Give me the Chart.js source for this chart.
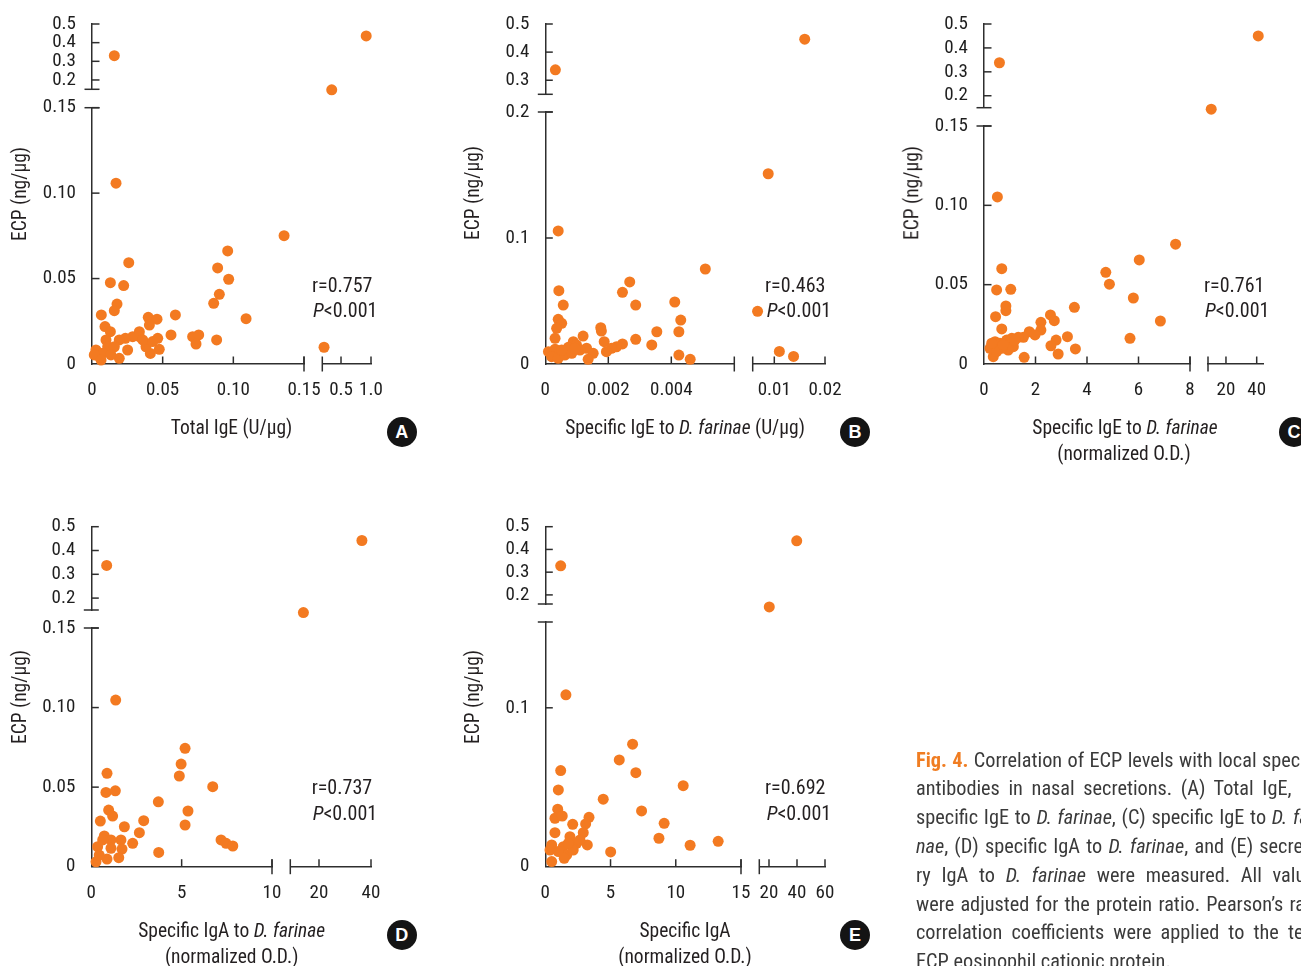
<!DOCTYPE html>
<html lang="en">
<head>
<meta charset="utf-8">
<title>Fig. 4 – ECP vs. local antibodies</title>
<script src="https://cdn.jsdelivr.net/npm/chart.js@4.4.1/dist/chart.umd.min.js"></script>
<style>
  html, body { margin:0; padding:0; background:#fff; overflow:hidden; }
  body { width:1301px; height:966px; position:relative;
         font-family:"Roboto Condensed",Roboto,sans-serif; color:#231f20; }
  canvas { position:absolute; left:0; top:0; }
  .c  { position:absolute; transform:translate(-50%,-50%); white-space:nowrap; font-size:19.5px; line-height:1; }
  .l  { position:absolute; transform:translate(0,-50%); white-space:nowrap; font-size:20px; line-height:1; }
  .yt { position:absolute; transform:translate(-50%,-50%) rotate(-90deg); white-space:nowrap; font-size:19.5px; line-height:1; }
  .tag { position:absolute; width:30px; height:30px; margin:-15px 0 0 -15px; border-radius:50%;
         background:#141414; color:#fff; font:bold 18px/30px "Liberation Sans",Arial,sans-serif; text-align:center; }
  .cap { position:absolute; left:916px; width:408px; height:24px; line-height:24px; font-size:20.3px;
         color:#3a3a3a; text-align:justify; text-align-last:justify; overflow:hidden; white-space:normal; }
  .cap.last { text-align-last:left; }
  .fig { color:#f07d22; font-weight:bold; }
</style>
</head>
<body>
<canvas id="cA" width="1301" height="966"></canvas>
<canvas id="cB" width="1301" height="966"></canvas>
<canvas id="cC" width="1301" height="966"></canvas>
<canvas id="cD" width="1301" height="966"></canvas>
<canvas id="cE" width="1301" height="966"></canvas>

<!-- A -->
<div class="yt" style="left:20px;top:194px">ECP (ng/μg)</div>
<div class="c" style="left:231.5px;top:428px">Total IgE (U/μg)</div>
<div class="l" style="left:312px;top:284.5px">r=0.757</div>
<div class="l" style="left:313px;top:310px"><i>P</i>&lt;0.001</div>
<div class="tag" style="left:401.7px;top:432.3px">A</div>

<!-- B -->
<div class="yt" style="left:473.3px;top:193px">ECP (ng/μg)</div>
<div class="c" style="left:685px;top:428px">Specific IgE to <i>D. farinae</i> (U/μg)</div>
<div class="l" style="left:765px;top:284.5px">r=0.463</div>
<div class="l" style="left:766.7px;top:310px"><i>P</i>&lt;0.001</div>
<div class="tag" style="left:855px;top:432.3px">B</div>

<!-- C -->
<div class="yt" style="left:911.7px;top:193px">ECP (ng/μg)</div>
<div class="c" style="left:1125px;top:428px">Specific IgE to <i>D. farinae</i></div>
<div class="c" style="left:1124px;top:454px">(normalized O.D.)</div>
<div class="l" style="left:1204px;top:284.5px">r=0.761</div>
<div class="l" style="left:1205px;top:310px"><i>P</i>&lt;0.001</div>
<div class="tag" style="left:1294px;top:432.3px">C</div>

<!-- D -->
<div class="yt" style="left:20px;top:697px">ECP (ng/μg)</div>
<div class="c" style="left:231.7px;top:930.7px">Specific IgA to <i>D. farinae</i></div>
<div class="c" style="left:231.7px;top:956.7px">(normalized O.D.)</div>
<div class="l" style="left:311.7px;top:787px">r=0.737</div>
<div class="l" style="left:312.7px;top:813px"><i>P</i>&lt;0.001</div>
<div class="tag" style="left:401.7px;top:935px">D</div>

<!-- E -->
<div class="yt" style="left:473.3px;top:697px">ECP (ng/μg)</div>
<div class="c" style="left:685px;top:930.7px">Specific IgA</div>
<div class="c" style="left:685px;top:956.7px">(normalized O.D.)</div>
<div class="l" style="left:765px;top:787px">r=0.692</div>
<div class="l" style="left:766.7px;top:813px"><i>P</i>&lt;0.001</div>
<div class="tag" style="left:855px;top:935px">E</div>

<!-- figure legend -->
<div class="cap" style="top:748px"><span class="fig">Fig. 4.</span> Correlation of ECP levels with local specific</div>
<div class="cap" style="top:776.3px">antibodies in nasal secretions. (A) Total IgE, (B)</div>
<div class="cap" style="top:805.3px">specific IgE to <i>D. farinae</i>, (C) specific IgE to <i>D. fari-</i></div>
<div class="cap" style="top:834px"><i>nae</i>, (D) specific IgA to <i>D. farinae</i>, and (E) secreto-</div>
<div class="cap" style="top:863px">ry IgA to <i>D. farinae</i> were measured. All values</div>
<div class="cap" style="top:891.5px">were adjusted for the protein ratio. Pearson’s rank</div>
<div class="cap" style="top:920px">correlation coefficients were applied to the test.</div>
<div class="cap last" style="top:949px">ECP eosinophil cationic protein.</div>

<script>
// ---------- measurements: [antibody level, ECP (ng/μg)] ----------
const totalIgE = [
  [0.0960,0.0662],[0.0260,0.0593],[0.0889,0.0562],[0.0967,0.0496],[0.0130,0.0476],[0.0224,0.0459],
  [0.0901,0.0408],[0.0861,0.0355],[0.0177,0.0351],[0.0158,0.0312],[0.0066,0.0287],[0.0590,0.0287],
  [0.1090,0.0265],[0.0398,0.0273],[0.0460,0.0262],[0.0092,0.0219],[0.0130,0.0189],[0.0406,0.0228],
  [0.0559,0.0170],[0.0712,0.0160],[0.0755,0.0170],[0.0736,0.0117],[0.0882,0.0141],[0.0465,0.0150],
  [0.0476,0.0086],[0.0413,0.0062],[0.0382,0.0101],[0.0335,0.0160],[0.0288,0.0160],[0.0236,0.0150],
  [0.0252,0.0082],[0.0193,0.0033],[0.0099,0.0141],[0.0111,0.0101],[0.0028,0.0082],[0.0052,0.0043],
  [0.0076,0.0063],[0.0016,0.0053],[0.0064,0.0023],[0.0335,0.0189],[0.0193,0.0141],[0.0158,0.0101],
  [0.0359,0.0141],[0.0134,0.0053],[0.0429,0.0131],[0.0170,0.1058],[0.1359,0.0751],
  [0.217,0.0098],[0.0158,0.330],[0.345,0.147],[0.92,0.436]
];
const specificIgE = [
  [0.00508,0.0754],[0.00268,0.0651],[0.00043,0.0582],[0.00245,0.0569],[0.00057,0.0468],[0.00287,0.0468],
  [0.00411,0.0492],[0.00041,0.0355],[0.00052,0.0323],[0.00430,0.0349],[0.00036,0.0283],[0.00176,0.0288],
  [0.00178,0.0262],[0.00354,0.0256],[0.00424,0.0256],[0.00031,0.0204],[0.00120,0.0222],[0.00287,0.0196],
  [0.00187,0.0177],[0.00245,0.0159],[0.00226,0.0137],[0.00210,0.0125],[0.00194,0.0098],[0.00338,0.0151],
  [0.00089,0.0177],[0.00099,0.0151],[0.00073,0.0132],[0.00131,0.0125],[0.00152,0.0085],[0.00136,0.0037],
  [0.00010,0.0098],[0.00031,0.0117],[0.00020,0.0058],[0.00041,0.0045],[0.00062,0.0071],[0.00084,0.0085],
  [0.00110,0.0111],[0.00424,0.0071],[0.00460,0.0037],[0.00052,0.0111],[0.00094,0.0125],[0.00041,0.1056],
  [0.0088,0.151],[0.0067,0.0418],[0.0110,0.0100],[0.0138,0.0060],
  [0.00032,0.337],[0.016,0.446]
];
const specificIgEOD = [
  [6.03,0.0656],[0.69,0.0601],[4.73,0.0578],[4.87,0.0503],[0.49,0.0467],[1.04,0.0471],[5.80,0.0416],
  [0.85,0.0366],[3.51,0.0357],[0.85,0.0336],[0.45,0.0298],[2.58,0.0309],[2.73,0.0273],[6.85,0.0271],
  [2.21,0.0263],[0.69,0.0221],[2.21,0.0214],[1.76,0.0204],[1.98,0.0183],[3.24,0.0172],[5.67,0.0162],
  [1.53,0.0168],[1.33,0.0168],[2.80,0.0151],[2.60,0.0115],[3.55,0.0095],[2.88,0.0063],[1.56,0.0042],
  [0.36,0.0046],[0.23,0.0099],[0.43,0.0141],[0.62,0.0131],[0.88,0.0151],[1.08,0.0162],[1.14,0.0109],
  [0.94,0.0088],[0.69,0.0099],[0.49,0.0078],[0.30,0.0131],[1.20,0.0151],[0.75,0.0120],[0.52,0.1053],
  [7.44,0.0755],
  [0.60,0.338],[41.0,0.450],[10.4,0.144]
];
const specificIgA = [
  [5.19,0.0744],[4.97,0.0645],[4.87,0.0570],[0.87,0.0587],[6.72,0.0503],[0.81,0.0467],[1.33,0.0477],
  [3.71,0.0408],[5.35,0.0350],[0.96,0.0356],[1.18,0.0318],[0.50,0.0287],[2.90,0.0289],[5.19,0.0262],
  [1.83,0.0251],[2.66,0.0214],[0.72,0.0193],[1.64,0.0168],[2.29,0.0147],[7.18,0.0168],[7.46,0.0147],
  [7.83,0.0130],[1.09,0.0168],[1.09,0.0116],[1.70,0.0111],[0.35,0.0126],[0.63,0.0168],[3.73,0.0090],
  [1.52,0.0057],[0.87,0.0048],[0.26,0.0031],[0.44,0.0073],[1.35,0.1047],
  [0.85,0.3375],[36.5,0.442],[14.0,0.139]
];
const secretoryIgA = [
  [6.69,0.0771],[5.67,0.0672],[6.94,0.0592],[1.18,0.0605],[1.00,0.0483],[10.57,0.0510],[4.44,0.0425],
  [0.95,0.0362],[0.74,0.0305],[1.30,0.0319],[7.38,0.0351],[3.35,0.0311],[3.09,0.0269],[9.11,0.0273],
  [2.10,0.0267],[0.74,0.0214],[2.91,0.0214],[8.71,0.0179],[1.89,0.0189],[13.25,0.0160],[11.10,0.0135],
  [3.22,0.0137],[2.40,0.0147],[1.38,0.0126],[0.49,0.0137],[0.36,0.0105],[5.01,0.0093],[1.64,0.0074],
  [1.00,0.0095],[0.49,0.0032],[1.45,0.0053],[2.14,0.0105],[2.66,0.0168],[1.76,0.0147],[1.58,0.1082],
  [1.18,0.328],[39.8,0.438],[20.2,0.147]
];

// ---------- tick values and their labels ----------
const ecpHighTicks   = [0.2, 0.3, 0.4, 0.5];
const ecpHighLabels  = ['0.2', '0.3', '0.4', '0.5'];
const ecpHighTicksB  = [0.3, 0.4, 0.5];
const ecpHighLabelsB = ['0.3', '0.4', '0.5'];
const ecpLowTicks    = [0, 0.05, 0.10, 0.15];
const ecpLowLabels   = ['0', '0.05', '0.10', '0.15'];
const ecpLowTicksB   = [0, 0.1, 0.2];
const ecpLowLabelsB  = ['0', '0.1', '0.2'];
const ecpLowTicksE   = [0, 0.1];
const ecpLowLabelsE  = ['0', '0.1'];

const totalIgETicks      = [0, 0.05, 0.10, 0.15];
const totalIgELabels     = ['0', '0.05', '0.10', '0.15'];
const totalIgEHighTicks  = [0.5, 1.0];
const totalIgEHighLabels = ['0.5', '1.0'];
const sIgETicks          = [0, 0.002, 0.004];
const sIgELabels         = ['0', '0.002', '0.004'];
const sIgEHighTicks      = [0.01, 0.02];
const sIgEHighLabels     = ['0.01', '0.02'];
const sIgEODTicks        = [0, 2, 4, 6, 8];
const sIgEODLabels       = ['0', '2', '4', '6', '8'];
const sIgEODHighTicks    = [20, 40];
const sIgEODHighLabels   = ['20', '40'];
const sIgATicks          = [0, 5, 10];
const sIgALabels         = ['0', '5', '10'];
const sIgAHighTicks      = [20, 40];
const sIgAHighLabels     = ['20', '40'];
const secIgATicks        = [0, 5, 10, 15];
const secIgALabels       = ['0', '5', '10', '15'];
const secIgAHighTicks    = [20, 40, 60];
const secIgAHighLabels   = ['20', '40', '60'];

// ---------- panel geometry (each axis is split into a low and a high segment) ----------
const panels = [
  { canvas:'cA', points:totalIgE, xBreak:0.15, yBreak:0.13, axisX:92, axisY:364,
    xLo:{min:0, max:0.15, from:92, to:304, ticks:totalIgETicks, labels:totalIgELabels},
    xHi:{min:0.188, max:1.0, from:322.3, to:371, ticks:totalIgEHighTicks, labels:totalIgEHighLabels},
    yLo:{min:0, max:0.15, from:364, to:107.7, ticks:ecpLowTicks, labels:ecpLowLabels},
    yHi:{min:0.15, max:0.5, from:89.3, to:24, ticks:ecpHighTicks, labels:ecpHighLabels} },
  { canvas:'cB', points:specificIgE, xBreak:0.006, yBreak:0.2, axisX:545.3, axisY:364,
    xLo:{min:0, max:0.006, from:545.3, to:734.3, ticks:sIgETicks, labels:sIgELabels},
    xHi:{min:0.00574, max:0.02, from:752.7, to:825, ticks:sIgEHighTicks, labels:sIgEHighLabels},
    yLo:{min:0, max:0.2, from:364, to:112, ticks:ecpLowTicksB, labels:ecpLowLabelsB},
    yHi:{min:0.25, max:0.5, from:94.3, to:24, ticks:ecpHighTicksB, labels:ecpHighLabelsB} },
  { canvas:'cC', points:specificIgEOD, xBreak:8, yBreak:0.13, axisX:984, axisY:364,
    xLo:{min:0, max:8, from:984, to:1190, ticks:sIgEODTicks, labels:sIgEODLabels},
    xHi:{min:8.3, max:44.3, from:1208, to:1263.3, ticks:sIgEODHighTicks, labels:sIgEODHighLabels},
    yLo:{min:0, max:0.15, from:364, to:126, ticks:ecpLowTicks, labels:ecpLowLabels},
    yHi:{min:0.15, max:0.5, from:107.7, to:24, ticks:ecpHighTicks, labels:ecpHighLabels} },
  { canvas:'cD', points:specificIgA, xBreak:10, yBreak:0.13, axisX:91.3, axisY:866.7,
    xLo:{min:0, max:10, from:91.3, to:272, ticks:sIgATicks, labels:sIgALabels},
    xHi:{min:8.96, max:40, from:290.3, to:371, ticks:sIgAHighTicks, labels:sIgAHighLabels},
    yLo:{min:0, max:0.15, from:866.7, to:628, ticks:ecpLowTicks, labels:ecpLowLabels},
    yHi:{min:0.15, max:0.5, from:610, to:526.7, ticks:ecpHighTicks, labels:ecpHighLabels} },
  { canvas:'cE', points:secretoryIgA, xBreak:15, yBreak:0.13, axisX:545.3, axisY:866.7,
    xLo:{min:0, max:15, from:545.3, to:741, ticks:secIgATicks, labels:secIgALabels},
    xHi:{min:13.07, max:60, from:759.3, to:825, ticks:secIgAHighTicks, labels:secIgAHighLabels},
    yLo:{min:0, max:0.154, from:866.7, to:622, ticks:ecpLowTicksE, labels:ecpLowLabelsE},
    yHi:{min:0.16, max:0.5, from:604, to:526.7, ticks:ecpHighTicks, labels:ecpHighLabels} }
];

const INK = '#2e2e2e';
const DOT = '#f37a21';
Chart.defaults.font.family = '"Roboto Condensed", Roboto, sans-serif';
Chart.defaults.font.size = 19;
Chart.defaults.color = '#231f20';

function scaleCfg(axis, s) {
  return {
    type: 'linear', axis, position: axis === 'x' ? 'bottom' : 'left',
    min: s.min, max: s.max, bounds: 'data',
    grid: { display: true, drawOnChartArea: false, drawTicks: false, color: 'rgba(0,0,0,0)' },
    border: { display: true, color: INK, width: 1.5 },
    afterBuildTicks: sc => { sc.ticks = s.ticks.map(v => ({ value: v })); },
    ticks: { autoSkip: false, maxRotation: 0, minRotation: 0, padding: axis === 'x' ? 15 : 16,
             color: '#1e1e1e', callback: (v, i) => s.labels[i] }
  };
}

// put each axis segment at its own place on the page
function place(s, l, t, r, b) {
  s.left = l; s.top = t; s.right = r; s.bottom = b;
  s.width = r - l; s.height = b - t;
  s.configure();
}

function brokenAxes(p) {
  return {
    id: 'brokenAxes',
    afterLayout(chart) {
      const S = chart.scales;
      place(S.yLo, p.axisX - 90, p.yLo.to, p.axisX, p.yLo.from);
      place(S.yHi, p.axisX - 90, p.yHi.to, p.axisX, p.yHi.from);
      place(S.xLo, p.xLo.from, p.axisY, p.xLo.to, p.axisY + 50);
      place(S.xHi, p.xHi.from, p.axisY, p.xHi.to, p.axisY + 50);
      // the plotting area spans the whole canvas so no mark near an axis is dropped
      const a = chart.chartArea;
      a.left = 0; a.top = 0; a.right = chart.width; a.bottom = chart.height;
      a.width = chart.width; a.height = chart.height;
    },
    beforeDatasetsDraw(chart) {
      const { ctx, scales: S } = chart;
      const L = 7.5, X = p.axisX, Y = p.axisY;
      const line = (x1, y1, x2, y2) => { ctx.beginPath(); ctx.moveTo(x1, y1); ctx.lineTo(x2, y2); ctx.stroke(); };
      ctx.save();
      ctx.strokeStyle = INK; ctx.lineWidth = 1.5; ctx.lineCap = 'butt';
      // inward tick marks
      [S.yLo, S.yHi].forEach(s => s.ticks.forEach(t => {
        if (t.value === 0) return;
        const y = s.getPixelForValue(t.value); line(X, y, X + L, y);
      }));
      [S.xLo, S.xHi].forEach(s => s.ticks.forEach(t => {
        if (t.value === 0) return;
        const x = s.getPixelForValue(t.value); line(x, Y, x, Y - L);
      }));
      // break caps on both sides of each gap
      line(X - L, S.yHi.bottom, X + L, S.yHi.bottom);
      line(X - L, S.yLo.top, X + L, S.yLo.top);
      line(S.xLo.right, Y - L, S.xLo.right, Y + L);
      line(S.xHi.left, Y - L, S.xHi.left, Y + L);
      ctx.restore();
    }
  };
}

function route(points, xb, yb) {
  const g = { LL: [], LH: [], HL: [], HH: [] };   // key: y segment, x segment
  points.forEach(([x, y]) => g[(y > yb ? 'H' : 'L') + (x > xb ? 'H' : 'L')].push({ x, y }));
  return g;
}

panels.forEach(p => {
  const g = route(p.points, p.xBreak, p.yBreak);
  const parts = [['LL', 'xLo', 'yLo'], ['LH', 'xHi', 'yLo'], ['HL', 'xLo', 'yHi'], ['HH', 'xHi', 'yHi']];
  new Chart(document.getElementById(p.canvas), {
    type: 'scatter',
    data: {
      datasets: parts.map(([k, xa, ya]) => ({
        data: g[k], xAxisID: xa, yAxisID: ya,
        pointRadius: 5.5, pointHoverRadius: 5.5, backgroundColor: DOT, borderWidth: 0, clip: false
      }))
    },
    options: {
      responsive: false, animation: false, devicePixelRatio: 1, events: [],
      layout: { padding: 0 },
      plugins: { legend: { display: false }, tooltip: { enabled: false } },
      scales: {
        xLo: scaleCfg('x', p.xLo), xHi: scaleCfg('x', p.xHi),
        yLo: scaleCfg('y', p.yLo), yHi: scaleCfg('y', p.yHi)
      }
    },
    plugins: [brokenAxes(p)]
  });
});
</script>
</body>
</html>
